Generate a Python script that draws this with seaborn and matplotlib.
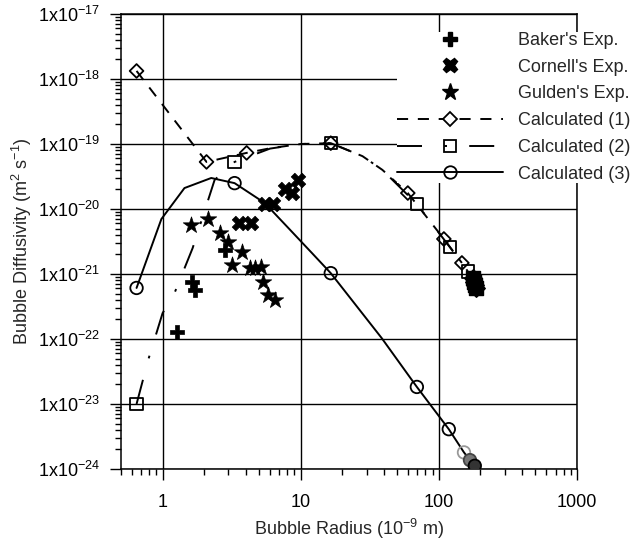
import matplotlib
matplotlib.use("Agg")
import matplotlib.pyplot as plt
from matplotlib.lines import Line2D
from matplotlib.ticker import FixedLocator, FixedFormatter, LogLocator, NullFormatter
import pandas as pd
import seaborn as sns

# Experimental data (radius in 1e-9 m, diffusivity in m^2/s)
baker_r = [1.28, 1.62, 1.71, 2.81]
baker_d = [1.3e-22, 7.5e-22, 5.7e-22, 2.3e-21]

cornell_r = [3.6, 4.4, 5.5, 6.3, 7.7, 8.6, 9.5]
cornell_d = [6.1e-21, 6.1e-21, 1.2e-20, 1.2e-20, 2.0e-20, 1.75e-20, 2.8e-20]

gulden_r = [1.6, 2.12, 2.59, 3.0, 3.73, 3.16, 4.27, 4.64, 5.2, 5.3, 5.77, 6.47]
gulden_d = [5.7e-21, 7.0e-21, 4.3e-21, 3.1e-21, 2.2e-21, 1.38e-21, 1.23e-21,
            1.23e-21, 1.3e-21, 7.5e-22, 4.7e-22, 4.0e-22]

# Calculated curves; *_mark flags the points that carry a symbol
calc1_r = [0.648, 2.08, 4.06, 6.0, 10.0, 16.5, 28.0, 39.0, 59.6, 108.7, 146.8]
calc1_d = [1.33e-18, 5.3e-20, 7.3e-20, 8.6e-20, 1.0e-19, 1.03e-19, 6.5e-20,
           4.0e-20, 1.76e-20, 3.46e-21, 1.48e-21]
calc1_mark = [1, 1, 1, 0, 0, 1, 0, 0, 1, 1, 1]

calc2_r = [0.648, 0.79, 1.0, 1.22, 1.65, 2.38, 3.32, 6.0, 10.0, 16.5, 28.0,
           39.0, 69.3, 120.0, 162.0]
calc2_d = [1.0e-23, 4.9e-23, 2.5e-22, 5.1e-22, 2.5e-21, 2.8e-20, 5.3e-20,
           8.5e-20, 1.0e-19, 1.03e-19, 6.5e-20, 4.0e-20, 1.19e-20, 2.6e-21, 1.1e-21]
calc2_mark = [1, 0, 0, 0, 0, 0, 1, 0, 0, 1, 0, 0, 1, 1, 1]

calc3_r = [0.648, 0.98, 1.44, 2.25, 3.32, 5.48, 8.0, 12.06, 16.5, 38.6, 69.3,
           118.0, 152.0, 168.0, 182.0]
calc3_d = [6.1e-22, 7.0e-21, 2.1e-20, 3.0e-20, 2.5e-20, 1.24e-20, 5.3e-21,
           2.1e-21, 1.03e-21, 1.03e-22, 1.83e-23, 4.1e-24, 1.8e-24, 1.37e-24, 1.12e-24]
calc3_mark = [1, 0, 0, 0, 1, 0, 0, 0, 1, 0, 1, 1, 0, 0, 0]

# overlapping tail symbols that render as a dark cluster
tail_r = [152.0, 168.0, 182.0]
tail_d = [1.8e-24, 1.37e-24, 1.12e-24]
blob_r = [176.5, 179.4, 182.5, 185.4]
blob_d = [8.6e-22, 7.6e-22, 6.8e-22, 6.0e-22]

legend_labels = ["Baker's Exp.", "Cornell's Exp.", "Gulden's Exp.",
                 "Calculated (1)", "Calculated (2)", "Calculated (3)"]

sns.set_style("ticks")
plt.rcParams["font.family"] = ["Liberation Sans", "DejaVu Sans"]
plt.rcParams["mathtext.fontset"] = "custom"
plt.rcParams["mathtext.rm"] = "Liberation Sans"
plt.rcParams["mathtext.it"] = "Liberation Sans:italic"
plt.rcParams["mathtext.default"] = "regular"
plt.rcParams["lines.scale_dashes"] = False

FS = 13
LW = 1.4
dash1 = (0, (8, 7))
dash2 = (0, (18, 16, 2, 16))

fig = plt.figure(figsize=(6.36, 5.41), dpi=100)
ax = fig.add_axes([121 / 636, 1 - 469 / 541, 456 / 636, 455 / 541])
ax.set_xscale("log")
ax.set_yscale("log")


def curve(r, d, mark, ls, marker, ms):
    df = pd.DataFrame({"r": r, "d": d, "m": mark})
    sns.lineplot(data=df, x="r", y="d", ax=ax, color="black", linewidth=LW,
                 linestyle=ls, estimator=None, sort=False, zorder=3)
    sub = df[df["m"] == 1]
    sns.scatterplot(data=sub, x="r", y="d", ax=ax, marker=marker, s=ms ** 2,
                    facecolor="none", edgecolor="black", linewidth=1.3, zorder=4)


curve(calc1_r, calc1_d, calc1_mark, dash1, "D", 7)
curve(calc2_r, calc2_d, calc2_mark, dash2, "s", 9)
curve(calc3_r, calc3_d, calc3_mark, "-", "o", 9)

sns.scatterplot(x=tail_r, y=tail_d, ax=ax, marker="o", s=81,
                facecolor=["none", "#777777", "#333333"],
                edgecolor=["#999999", "#444444", "black"], linewidth=1.3, zorder=4)
sns.scatterplot(x=blob_r, y=blob_d, ax=ax, marker="s", s=100, color="black",
                edgecolor="black", linewidth=1, zorder=4)
sns.scatterplot(x=blob_r, y=blob_d, ax=ax, marker="D", s=80, color="black",
                edgecolor="black", linewidth=1, zorder=4)

sns.scatterplot(x=baker_r, y=baker_d, ax=ax, marker="P", s=110, color="black",
                edgecolor="black", linewidth=0.5, zorder=5)
sns.scatterplot(x=cornell_r, y=cornell_d, ax=ax, marker="X", s=110, color="black",
                edgecolor="black", linewidth=0.5, zorder=5)
sns.scatterplot(x=gulden_r, y=gulden_d, ax=ax, marker="*", s=155, color="black",
                edgecolor="black", linewidth=0.5, zorder=5)

ax.set_xlim(0.5, 1000)
ax.set_ylim(1e-24, 1e-17)

ax.xaxis.set_major_locator(FixedLocator([1, 10, 100, 1000]))
ax.xaxis.set_major_formatter(FixedFormatter(["1", "10", "100", "1000"]))
ax.xaxis.set_minor_locator(LogLocator(base=10, subs=range(2, 10), numticks=20))
ax.xaxis.set_minor_formatter(NullFormatter())

yt = [10.0 ** e for e in range(-24, -16)]
ax.yaxis.set_major_locator(FixedLocator(yt))
ax.yaxis.set_major_formatter(FixedFormatter(["1x10$^{%d}$" % e for e in range(-24, -16)]))
ax.yaxis.set_minor_locator(LogLocator(base=10, subs=range(2, 10), numticks=20))
ax.yaxis.set_minor_formatter(NullFormatter())

ax.grid(True, which="major", color="black", linewidth=1.0)
ax.set_axisbelow(True)
for s in ax.spines.values():
    s.set_linewidth(1.1)
    s.set_color("black")
    s.set_visible(True)

ax.tick_params(which="major", direction="out", length=8, width=1.0, labelsize=FS,
               color="black", labelcolor="black")
ax.tick_params(axis="x", which="major", pad=10)
ax.tick_params(axis="y", which="major", pad=7)
ax.tick_params(which="minor", direction="out", length=4.3, width=1.0, color="black")

ax.set_xlabel("Bubble Radius (10$^{-9}$ m)", fontsize=FS, labelpad=4)
ax.set_ylabel("Bubble Diffusivity (m$^2$ s$^{-1}$)", fontsize=FS, labelpad=3)

handles = [
    Line2D([], [], color="black", marker="P", linestyle="None", markersize=10.5),
    Line2D([], [], color="black", marker="X", linestyle="None", markersize=10.5),
    Line2D([], [], color="black", marker="*", linestyle="None", markersize=12.5),
    Line2D([], [], color="black", lw=LW, linestyle=dash1, marker="D", markersize=7,
           mfc="white", mec="black", mew=1.3),
    Line2D([], [], color="black", lw=LW, linestyle=dash2, marker="s", markersize=9,
           mfc="none", mec="black", mew=1.3),
    Line2D([], [], color="black", lw=LW, linestyle="-", marker="o", markersize=9,
           mfc="none", mec="black", mew=1.3),
]
leg = ax.legend(handles, legend_labels, loc="upper left",
                bbox_to_anchor=(397 / 636, 1 - 32 / 541), bbox_transform=fig.transFigure,
                fontsize=FS, handlelength=5.87, handletextpad=0.83, labelspacing=0.54,
                borderpad=0, borderaxespad=0, frameon=True, fancybox=False,
                framealpha=1, facecolor="white", edgecolor="white")
leg.get_frame().set_linewidth(0)

fig.savefig("out.png", dpi=100, facecolor="white")
